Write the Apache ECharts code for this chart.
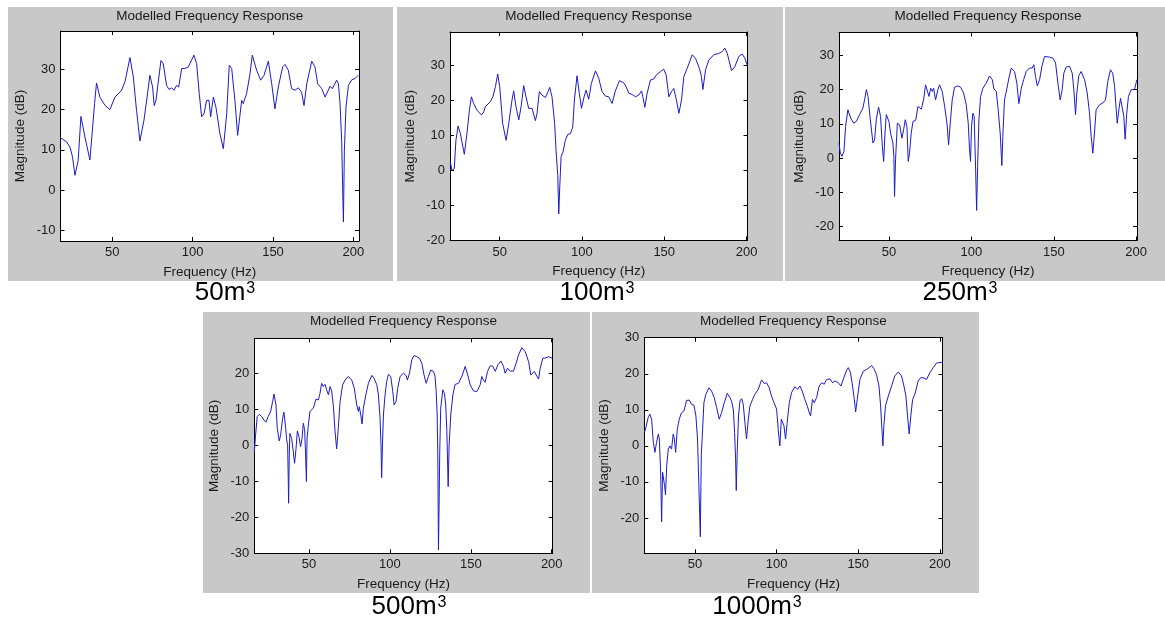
<!DOCTYPE html>
<html><head><meta charset="utf-8">
<script src="https://cdn.jsdelivr.net/npm/echarts@6/dist/echarts.min.js"></script>
<style>html,body{margin:0;padding:0;background:#fff}#c{width:1165px;height:621px}</style>
</head><body><div id="c"></div>
<script>
// ---- data: [frequency Hz, magnitude dB] per room volume ----
const roomLabels = ['50m', '100m', '250m', '500m', '1000m'];
const chartTitle = 'Modelled Frequency Response';
const xName = 'Frequency (Hz)';
const yName = 'Magnitude (dB)';

const resp50 = [[17.8,13.0],[21.6,12],[23.7,10.7],[25.3,8.2],[26.8,3.7],[27.2,3.4],[28.8,7.4],[30.5,18.3],[33,13.2],[36.1,7.5],[37.8,15.7],[39,21.5],[40.2,26.6],[42.3,23.1],[45.4,21.1],[48.5,20],[51.7,23.1],[55.8,24.8],[57.9,26.9],[61,32.9],[63.1,28.1],[65.1,19.8],[67.2,12.2],[69.7,17.3],[71.4,22.3],[73.4,28.5],[75.1,25.6],[76.1,21],[77.2,22.3],[80.3,32.2],[81.7,31.4],[83.8,26],[85.3,25],[86.9,25.4],[88.4,24.8],[90,26],[91.3,25.6],[93.2,30.2],[95.2,30.2],[97.3,30.6],[100.8,33.5],[102.5,31.4],[104.1,24],[105.6,18.2],[107.1,19],[108.7,22.3],[110.2,22.3],[111.2,18.2],[112.9,23.1],[114.5,20.6],[117,14],[119.1,10.3],[121.2,19],[122.8,31],[124.3,30.2],[126.3,22.3],[128,13.6],[130.5,22.3],[131.5,21.5],[133.6,24],[135.7,28.9],[137.1,33.5],[139.8,29.8],[142.3,27.3],[144.4,28.5],[147.1,32],[149.2,26.4],[151.2,20.2],[153.3,25.6],[156,30.6],[157.5,31.2],[159.5,29.8],[161.6,25.2],[163.7,24.8],[165.8,25.4],[167.8,24.3],[169.3,21],[171,26.4],[174.1,32],[176.1,30.6],[177.8,26.4],[180.3,25.2],[182.4,23.1],[183.4,23.1],[185.5,25.8],[186.9,25.2],[189.6,27.3],[190.7,26.4],[191.7,21.5],[192.7,12.4],[193.8,-7.9],[194.4,9.9],[195.4,20.6],[196.9,26],[199,27.4],[201,27.7],[203.1,28.5]];

const resp100 = [[20,2.4],[21,0],[22.4,0.5],[23.4,8.6],[24.7,12.7],[26.1,10.5],[28.5,4.6],[30.1,10.5],[31.6,17.2],[32.8,21],[34.2,19.1],[36.2,17.2],[38.9,15.8],[40.3,16.7],[41.3,18.2],[44.3,19.6],[45.9,21],[47.4,23.9],[48.8,27.5],[50,23.9],[51.8,13.4],[53.9,8.6],[55.5,13.4],[57.5,20.1],[58.5,22.7],[59.9,18.2],[61.6,14.4],[63,18.2],[64.6,24.2],[66,21],[67.6,17.7],[69.7,17.7],[71.7,14.2],[72.7,16.3],[74.1,22.5],[75.7,21.5],[77.8,20.8],[79.4,22.5],[80.4,23.7],[81.8,21],[83.4,13.4],[84.3,5.3],[85.3,-1.4],[85.9,-12.4],[86.5,-4.7],[87.3,3.9],[88.5,5.3],[89.9,8.6],[91.4,10.3],[93,10.5],[94.4,12.4],[95.4,20.1],[97,27],[98.4,22],[99.7,17.7],[101.3,21],[102.5,22.9],[104.1,20.3],[105.7,24.8],[108.2,28.4],[110.2,26.3],[112.2,22.5],[114.3,21.2],[116.3,21],[118.3,19.1],[120.3,22.7],[122.8,25.6],[125.4,25],[126.8,23.9],[128.5,22],[130.5,21.7],[132.5,21],[134.5,21.5],[136.2,22.7],[137,21],[138.2,18],[139.6,22],[141.6,25.8],[143.7,26.1],[145.1,27.2],[147.7,28.2],[149.7,28.9],[151.2,27.2],[152.8,21],[154.4,22.5],[155.8,23.4],[157.4,20.1],[158.9,16.3],[160.5,20.1],[161.9,26.8],[163.9,29.1],[167,33],[169,32],[171.4,29.1],[172.6,26.8],[173.5,23.1],[175.1,28.7],[177.1,31.5],[180.1,33],[183.2,33.4],[185.2,33.9],[186.8,34.9],[188.3,33.4],[189.3,31.5],[190.9,28.5],[192.9,29.6],[195.3,32.5],[197.4,33.2],[199,32],[200.4,30.1]];

const resp250 = [[19.7,4.4],[20.5,1.4],[21.5,0.5],[22.7,1.9],[23.7,9.2],[25.1,14.1],[26.8,11.7],[28.6,10.2],[30.2,10.7],[32.2,12.7],[34.2,14.6],[35.2,17],[36.3,20],[37.3,18],[38.7,11.2],[40.3,4.4],[41.3,5.3],[42.3,11.2],[43.7,14.9],[44.9,12.2],[46,3.4],[46.8,-1],[47.6,7.3],[48.4,12.7],[50,10.7],[51,7.3],[52.4,4.4],[53,0.5],[53.4,-11.2],[54,-0.5],[55.1,10.2],[56.5,9.7],[57.9,5.8],[58.9,8.3],[59.9,11.2],[60.9,9.2],[61.7,-1],[62.5,1.4],[63.5,7.3],[64.6,10.7],[66.2,11],[67.6,15.1],[69.6,14.3],[71,17],[72.2,21.4],[73.2,21.1],[74.3,18],[75.3,20.4],[76.3,19.5],[77.1,20.4],[78.3,17],[79.7,20],[80.7,21.4],[82.3,19.5],[83.8,15.1],[85.2,10.2],[86.2,3.9],[87.2,10.2],[88.4,17],[89.8,20.7],[91.8,21.1],[93.5,20.7],[95.3,19],[96.9,15.6],[98.1,10.2],[98.9,2.4],[99.5,-1],[100.1,9.2],[100.9,13.1],[101.7,12.2],[102.6,-3.4],[103.2,-15.3],[103.8,-2.5],[104.6,11.2],[105.6,18],[107,20.4],[109,21.9],[111,24],[112.7,22.9],[113.7,20.2],[115.1,19.5],[116.1,15.1],[117.5,7.3],[118.5,-2.2],[119.1,6.3],[120.1,17],[121.6,20.4],[122.8,23.4],[124.2,26.3],[126.2,25.3],[127.6,21.9],[128.8,15.9],[130.3,20.4],[131.7,22.9],[133.3,25.3],[135.3,26.3],[136.9,26.3],[137.9,27.3],[138.9,23.9],[140,21.1],[141.4,22.9],[142.8,26.8],[144.4,29.7],[145.4,30.2],[147.4,29.5],[149.5,29.2],[151.1,27.8],[152.5,21.9],[153.9,17],[155.1,20],[156.1,24.8],[157.5,26.6],[159.6,26.8],[161.2,24.8],[162.2,20],[163.2,12.7],[164,19],[165.2,24.1],[166.6,25.3],[168.7,22.9],[170.3,19],[171.7,13.1],[172.7,6.3],[173.7,1.4],[174.7,7.3],[175.7,14.1],[177.8,15.6],[179.8,16.1],[181.4,17],[182.8,22.4],[184.4,25.8],[185.8,24.8],[186.9,20.9],[187.9,14.1],[188.5,10.2],[189.5,14.1],[190.5,17.5],[191.5,17],[192.5,12.2],[193.3,5.5],[194.3,13.1],[195.3,18],[197,20],[199,20],[200.4,22.9]];

const resp500 = [[16.2,-1.8],[17,2.9],[18,8],[19.3,8.6],[20.7,8],[22.2,7],[23.4,6.4],[24.8,8],[26.3,9.4],[27.5,12.1],[28.4,14.2],[29.6,11.2],[30.4,4.7],[31.6,1.2],[32.5,2.9],[33.7,7.5],[34.5,9.2],[35.6,4.7],[36.2,1.5],[36.8,0.1],[37.2,-10],[37.4,-16.1],[37.8,-2.7],[38.2,3.3],[39.3,1.9],[40.3,-1.8],[41.1,-5],[42,-0.8],[42.8,4],[43.8,2.4],[44.8,-0.4],[45.7,1.9],[46.5,6.1],[47.3,4.3],[47.9,-2.7],[48.4,-10.1],[48.8,1.9],[49.6,5.6],[50.6,9.4],[52.7,10.3],[54.3,12.8],[55.8,12.6],[56.8,14.4],[57.8,17.2],[58.9,16.3],[59.9,16.9],[60.9,15.4],[62,14],[63,16.3],[64,15.1],[65.1,10.7],[66.1,3.8],[67.1,-1],[68.1,4.7],[69.2,12.1],[70.8,16.8],[72.3,18.1],[74.3,19.1],[76.4,18.1],[78,15.8],[79.5,11.2],[80.5,9.4],[81.1,10.7],[82,8.4],[82.8,5.9],[83.6,10.3],[85.3,14.4],[86.7,17.2],[88.8,19.4],[90.2,18.6],[91.9,16.8],[92.9,14],[93.9,7.5],[94.5,0.1],[94.9,-9],[95.4,0.1],[96,8.4],[97,14],[98,17.7],[99.1,19.7],[100.5,19.1],[101.8,14.9],[102.6,11.2],[103.8,12.1],[104.8,15.8],[106.3,19.1],[108.4,20],[110,19.4],[110.8,18.1],[112.1,20],[113.5,23.7],[114.9,24.9],[116.6,24.6],[118.2,24.2],[119.7,22.8],[121.1,19.5],[122.4,17.2],[123.8,19.1],[125.3,20.9],[126.9,20.5],[127.9,19.1],[128.6,14.9],[129.2,8.4],[129.6,-2.7],[130,-29.1],[130.4,-16.6],[130.8,-1.8],[131.4,10.3],[132.7,15.4],[133.7,14.4],[134.5,11.2],[135.2,3.8],[136,-11.5],[136.6,0.1],[137.6,8.4],[138.9,14],[140.3,16.9],[142.4,17.2],[143.4,17.7],[144.8,19.5],[146.5,21.9],[148.1,19.5],[149.6,16.8],[151.6,15.1],[153.7,14.9],[155.8,16.8],[156.8,19.1],[157.8,18.1],[158.9,17.5],[160.3,20.5],[162,22.1],[163.6,21.9],[165.1,20.5],[166.7,22.3],[168.6,23.4],[170.2,21.9],[171.2,20],[172.7,21.4],[174.3,20.6],[176.4,20.6],[178,22.8],[179.5,25.1],[181.5,27.1],[183.6,26],[185.7,23.2],[187.1,19.5],[188.1,19.1],[189.2,20.5],[190.4,19.5],[191.9,18.4],[192.9,21.4],[194.5,24.2],[196,24.2],[198,24.6],[200.1,24.2]];

const resp1000 = [[19,3.7],[20,5.1],[21.4,7.9],[22.4,8.8],[23.5,7.4],[24.5,1],[25.5,-1.8],[26.5,1],[27.6,3.3],[28.2,1.9],[29,-7.3],[29.6,-21.1],[30.2,-7.3],[30.8,-6.9],[31.4,-11],[32,-13.6],[32.7,-5.5],[33.7,-0.9],[34.7,0],[35.7,-0.9],[36.7,3.3],[37.3,2.3],[38.2,-1.8],[39.2,4.6],[40.4,7.4],[41.8,9.2],[43.3,9.7],[44.9,12.6],[46.5,12.7],[48,11.5],[49.4,11.3],[50.6,8.3],[51.6,1.9],[52.4,-11],[53.3,-25.2],[53.9,-2.7],[54.7,4.6],[55.5,12],[56.7,14.3],[58.6,16.1],[60.2,15.2],[61.8,13.4],[63.3,10.6],[64.9,7.4],[66.3,9.2],[68,12],[69.8,14.6],[71.4,13.4],[72.4,12.5],[73.5,10.2],[74.3,3.7],[74.9,-3.6],[75.3,-12.4],[75.9,-1.8],[76.7,8.3],[77.6,12.5],[78.6,13.1],[79.6,11.5],[80.6,6.5],[81.6,1.9],[82.7,7.4],[83.7,11.1],[85.3,12.9],[86.7,14.3],[88.8,15.7],[90.8,18.3],[92.4,17.3],[93.9,17.5],[95.5,16.1],[96.9,13.8],[98,12.5],[99,12.9],[100,10.2],[101,4.6],[102,0],[102.9,7.4],[103.7,7.9],[104.5,5.6],[105.5,1.9],[106.5,6.5],[107.8,12],[109.2,14.8],[111.2,16.4],[112.9,15.7],[114.3,16.6],[115.7,15.2],[117.3,12.9],[118.8,11.1],[120,9.2],[120.8,8.3],[122,12.9],[123.1,12],[124.5,13.4],[126.1,16.6],[127.6,17.5],[129.2,17.1],[130.6,18.4],[132.7,18.6],[134.3,17.5],[135.7,18],[137.8,17.5],[139.4,16.6],[141.2,18.9],[142.9,21],[143.9,21.7],[145.3,20.3],[146.5,16.6],[147.6,12.9],[148.4,9.4],[149.4,12.9],[151,18.4],[153.1,20.7],[155.1,21.2],[156.7,21.7],[158.2,22.3],[159.6,21.4],[161.2,19.8],[162.7,16.6],[163.7,11.1],[164.5,4.6],[165.1,0],[165.7,5.6],[166.7,11.1],[168.4,13.8],[170.4,16.6],[172.4,19.4],[174.5,20.5],[176.5,19.4],[178,16.6],[179.2,13.8],[180.2,8.3],[181.2,3.3],[182.2,8.3],[183.3,12.9],[184.7,14.3],[186.7,18],[188.2,18.9],[189.8,18.9],[191.8,18.4],[193.9,20.3],[195.9,21.7],[198,23],[201.6,23.2]];

// ---- tick labels ----
const xTickValues = [50, 100, 150, 200];
const yTicks50 = [-10, 0, 10, 20, 30];
const yTicks100 = [-20, -10, 0, 10, 20, 30];
const yTicks250 = [-20, -10, 0, 10, 20, 30];
const yTicks500 = [-30, -20, -10, 0, 10, 20];
const yTicks1000 = [-20, -10, 0, 10, 20, 30];

// ---- axis ranges ----
const xRange50 = [17.8, 203.5], yRange50 = [-12.6, 39.5];
const xRange100 = [19.8, 200.6], yRange100 = [-20, 39.5];
const xRange250 = [19.7, 200.5], yRange250 = [-24.1, 36.7];
const xRange500 = [16.2, 200.6], yRange500 = [-30, 29.7];
const xRange1000 = [19, 201.6], yRange1000 = [-29.8, 30];

const panels = [
  {data: resp50, yTicks: yTicks50, xr: xRange50, yr: yRange50, label: roomLabels[0]},
  {data: resp100, yTicks: yTicks100, xr: xRange100, yr: yRange100, label: roomLabels[1]},
  {data: resp250, yTicks: yTicks250, xr: xRange250, yr: yRange250, label: roomLabels[2]},
  {data: resp500, yTicks: yTicks500, xr: xRange500, yr: yRange500, label: roomLabels[3]},
  {data: resp1000, yTicks: yTicks1000, xr: xRange1000, yr: yRange1000, label: roomLabels[4]}
];

// ---- layout (pixels) ----
const layout = [
  {bg: [8, 7, 385, 274], grid: [60.5, 31, 298.5, 210], titleY: 16, labelCx: 225, labelBase: 306},
  {bg: [397, 7, 386, 274], grid: [450, 32, 297.5, 208.5], titleY: 16, labelCx: 597, labelBase: 306},
  {bg: [785, 7, 380, 274], grid: [839, 32.5, 298, 208], titleY: 16, labelCx: 960, labelBase: 306},
  {bg: [203, 312, 387, 281], grid: [254.3, 338.3, 298.4, 215], titleY: 321.5, labelCx: 409, labelBase: 620},
  {bg: [592, 312, 387, 281], grid: [644.3, 337.7, 298.2, 215.6], titleY: 321.5, labelCx: 757, labelBase: 620}
];

const FONT = '"Liberation Sans", Arial, Helvetica, sans-serif';
const lineColor = '#1c1cc8';
const txt = '#1a1a1a';

const grids = [], xAxes = [], yAxes = [], series = [], graphics = [];

function measure(text, size) {
  const c = document.createElement('canvas').getContext('2d');
  c.font = size + 'px ' + FONT;
  return c.measureText(text).width;
}

panels.forEach((p, i) => {
  const L = layout[i];
  grids.push({left: L.grid[0], top: L.grid[1], width: L.grid[2], height: L.grid[3],
    show: true, backgroundColor: '#ffffff', borderWidth: 0, containLabel: false});
  const axisLine = {show: true, onZero: false, lineStyle: {color: '#000', width: 1}};
  const tick = (vals) => ({show: true, inside: true, length: 4, customValues: vals, lineStyle: {color: '#000', width: 1}});
  const lbl = (vals, show) => ({show: show, customValues: vals, margin: 5, fontSize: 13, color: txt, fontFamily: FONT});
  xAxes.push({type: 'value', gridIndex: i, position: 'bottom', min: p.xr[0], max: p.xr[1],
    axisLine, axisTick: tick(xTickValues), axisLabel: lbl(xTickValues, true), splitLine: {show: false},
    name: xName, nameLocation: 'middle', nameGap: 24,
    nameTextStyle: {fontSize: 13.5, color: txt, fontFamily: FONT}});
  xAxes.push({type: 'value', gridIndex: i, position: 'top', min: p.xr[0], max: p.xr[1],
    axisLine, axisTick: tick(xTickValues), axisLabel: lbl(xTickValues, false), splitLine: {show: false}});
  yAxes.push({type: 'value', gridIndex: i, position: 'left', min: p.yr[0], max: p.yr[1],
    axisLine, axisTick: tick(p.yTicks), axisLabel: lbl(p.yTicks, true), splitLine: {show: false},
    name: yName, nameLocation: 'middle', nameGap: 33,
    nameTextStyle: {fontSize: 13.5, color: txt, fontFamily: FONT}});
  yAxes.push({type: 'value', gridIndex: i, position: 'right', min: p.yr[0], max: p.yr[1],
    axisLine, axisTick: tick(p.yTicks), axisLabel: lbl(p.yTicks, false), splitLine: {show: false}});
  series.push({type: 'line', xAxisIndex: 2 * i, yAxisIndex: 2 * i, data: p.data,
    showSymbol: false, symbol: 'none', silent: true, clip: true,
    lineStyle: {color: lineColor, width: 1}});

  graphics.push({type: 'rect', z: -10, shape: {x: L.bg[0], y: L.bg[1], width: L.bg[2], height: L.bg[3]},
    style: {fill: '#c8c8c8'}, silent: true});
  graphics.push({type: 'text', z: 10, x: L.grid[0] + L.grid[2] / 2, y: L.titleY,
    style: {text: chartTitle, font: '13.5px ' + FONT, fill: txt, textAlign: 'center', textVerticalAlign: 'middle', align: 'center', verticalAlign: 'middle'}});
  const mainW = measure(p.label, 26);
  const supW = measure('3', 16);
  const left = L.labelCx - (mainW + 1 + supW) / 2;
  graphics.push({type: 'text', z: 10, x: left, y: L.labelBase,
    style: {text: p.label, font: '26px ' + FONT, fill: '#000', textAlign: 'left', textVerticalAlign: 'bottom', align: 'left', verticalAlign: 'bottom'}});
  graphics.push({type: 'text', z: 10, x: left + mainW + 1, y: L.labelBase - 25,
    style: {text: '3', font: '16px ' + FONT, fill: '#000', textAlign: 'left', textVerticalAlign: 'top', align: 'left', verticalAlign: 'top'}});
});

const chart = echarts.init(document.getElementById('c'), null, {renderer: 'canvas'});
chart.setOption({
  backgroundColor: '#ffffff',
  animation: false,
  grid: grids, xAxis: xAxes, yAxis: yAxes, series: series,
  graphic: {elements: graphics}
});
</script></body></html>
